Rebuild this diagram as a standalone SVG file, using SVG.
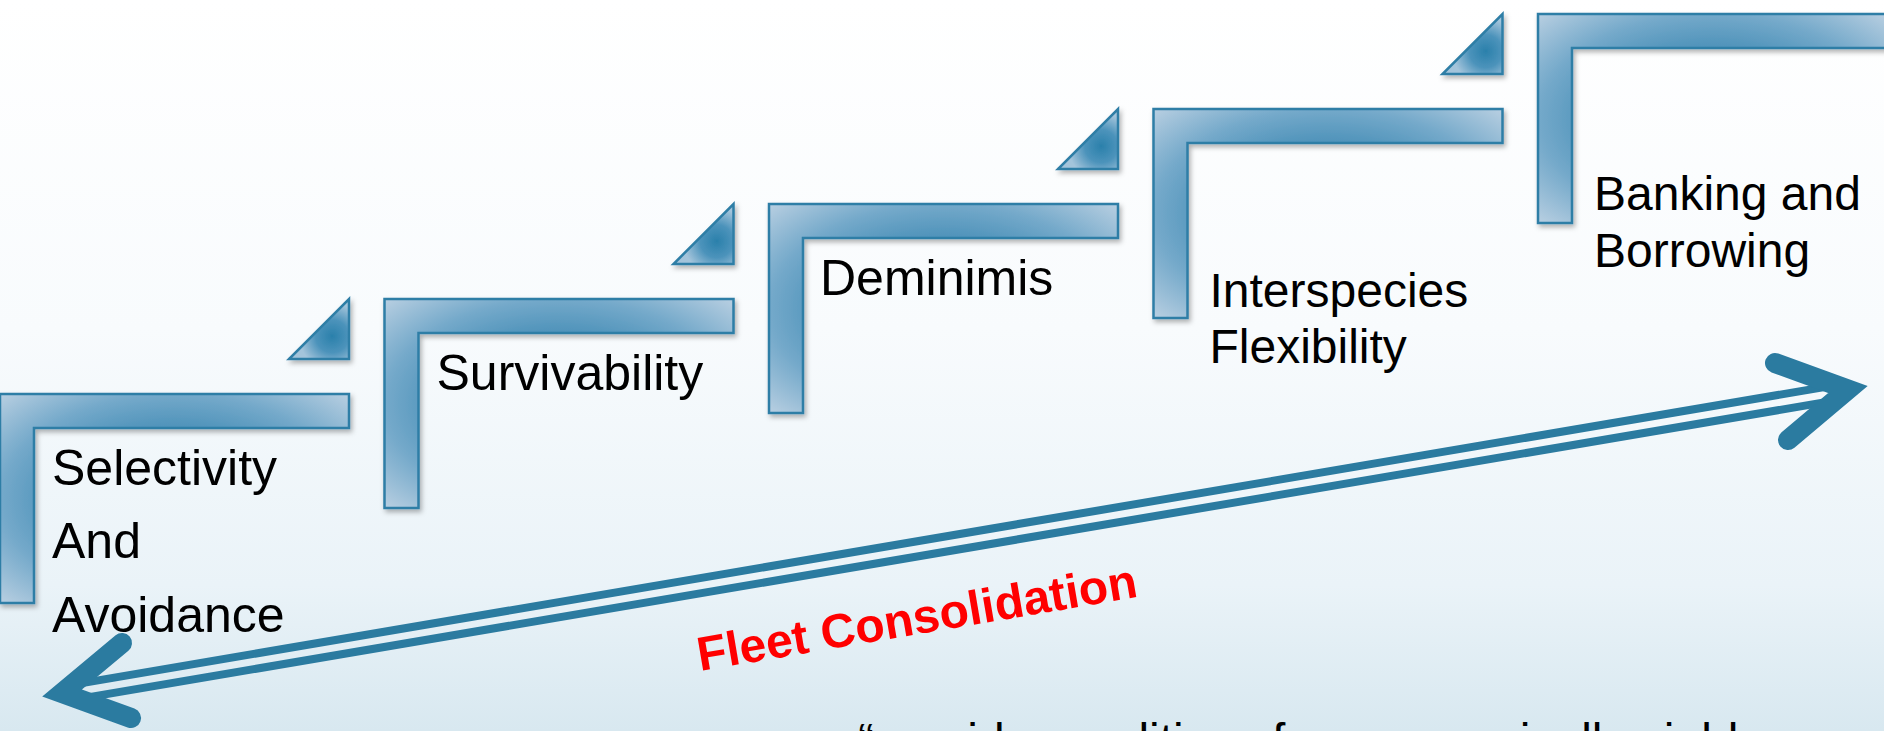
<svg xmlns="http://www.w3.org/2000/svg" width="1884" height="731" viewBox="0 0 1884 731">
  <defs>
    <linearGradient id="bg" x1="0" y1="0" x2="0" y2="1">
      <stop offset="0" stop-color="#ffffff"/>
      <stop offset="0.45" stop-color="#f8fbfd"/>
      <stop offset="0.8" stop-color="#eaf3f8"/>
      <stop offset="1" stop-color="#d8e8f0"/>
    </linearGradient>
    <radialGradient id="barFill" cx="0.5" cy="0.5" r="0.71">
      <stop offset="0" stop-color="#3a86b0"/>
      <stop offset="0.45" stop-color="#4a90b8"/>
      <stop offset="0.7" stop-color="#74a9ca"/>
      <stop offset="1" stop-color="#bad0e2"/>
    </radialGradient>
    <radialGradient id="triFill" cx="0.72" cy="0.62" r="0.55">
      <stop offset="0" stop-color="#2a80ab"/>
      <stop offset="0.5" stop-color="#4c93bb"/>
      <stop offset="1" stop-color="#a3c4db"/>
    </radialGradient>
    <filter id="shadow" x="-10%" y="-10%" width="125%" height="130%">
      <feDropShadow dx="2" dy="3" stdDeviation="2.5" flood-color="#000000" flood-opacity="0.3"/>
    </filter>
    <path id="Lshape" d="M0,0 H349 V34 H34 V209 H0 Z"/>
    <path id="Tri" d="M289,-35 H349 V-95 Z"/>
  </defs>
  <style>
    .bar { fill: url(#barFill); stroke: #2f7ea6; stroke-width: 2.5; filter: url(#shadow); }
    .tri { fill: url(#triFill); stroke: #2f7ea6; stroke-width: 2.5; filter: url(#shadow); }
    .lbl { font-family: "Liberation Sans", Arial, sans-serif; font-size: 50px; fill: #000000; }
    .lbl2 { font-family: "Liberation Sans", Arial, sans-serif; font-size: 48px; fill: #000000; }
    .dl { stroke: #2b7ba0; stroke-width: 8; fill: none; }
    .head { stroke: #2b7ba0; stroke-width: 20; fill: none; stroke-linecap: round; stroke-linejoin: miter; }
    .fleet { font-family: "Liberation Sans", Arial, sans-serif; font-size: 48px; font-weight: bold; fill: #ff0000; }
  </style>

  <rect x="0" y="0" width="1884" height="731" fill="url(#bg)"/>

  <g id="step1" transform="translate(0,394)">
    <use href="#Tri" class="tri"/>
    <use href="#Lshape" class="bar"/>
    <text class="lbl" x="52" y="91">Selectivity</text>
    <text class="lbl" x="52" y="164">And</text>
    <text class="lbl" x="52" y="238">Avoidance</text>
  </g>

  <g id="step2" transform="translate(384.5,299)">
    <use href="#Tri" class="tri"/>
    <use href="#Lshape" class="bar"/>
    <text class="lbl" x="52" y="91">Survivability</text>
  </g>

  <g id="step3" transform="translate(769,204)">
    <use href="#Tri" class="tri"/>
    <use href="#Lshape" class="bar"/>
    <text class="lbl" x="51" y="91">Deminimis</text>
  </g>

  <g id="step4" transform="translate(1153.5,109)">
    <use href="#Tri" class="tri"/>
    <use href="#Lshape" class="bar"/>
    <text class="lbl2" x="56" y="198">Interspecies</text>
    <text class="lbl2" x="56" y="254">Flexibility</text>
  </g>

  <g id="step5" transform="translate(1538,14)">
    <use href="#Lshape" class="bar"/>
    <text class="lbl2" x="56" y="196">Banking and</text>
    <text class="lbl2" x="56" y="253">Borrowing</text>
  </g>

  <g id="connectors">
    <line class="dl" x1="67.3" y1="685.6" x2="1839.1" y2="384.6"/>
    <line class="dl" x1="69.9" y1="700.4" x2="1841.7" y2="399.4"/>
    <polyline class="head" points="122,643 62,693 131,718"/>
    <polyline class="head" points="1775,363 1848,389.5 1788,440"/>
  </g>

  <g id="fleet-label">
    <text class="fleet" transform="translate(700,671) rotate(-9.6)">Fleet Consolidation</text>
  </g>

  <g id="quote">
    <text class="lbl2" y="757"><tspan x="858">“provides</tspan><tspan x="1069">realities</tspan><tspan x="1272">for</tspan><tspan x="1349">economically viable</tspan></text>
  </g>
</svg>
